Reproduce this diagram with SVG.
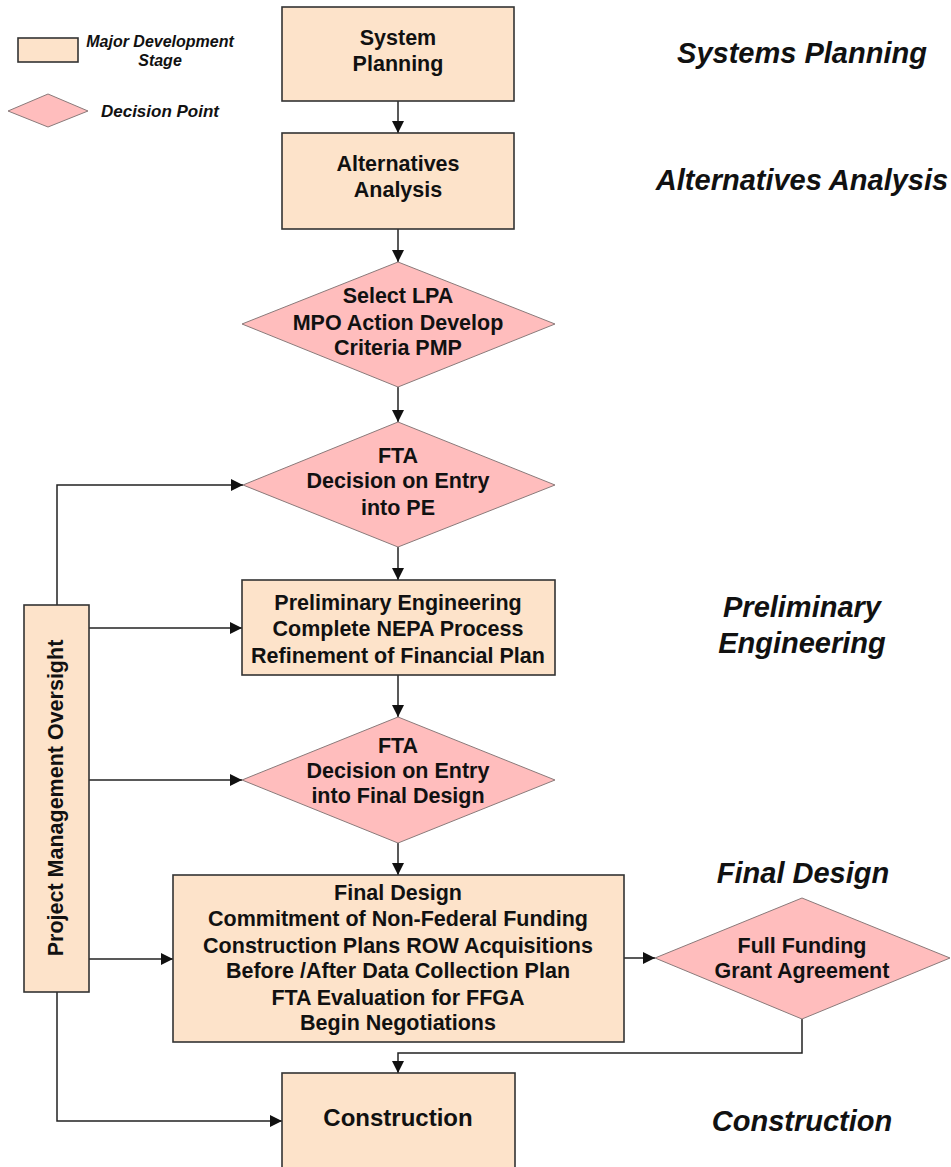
<svg xmlns="http://www.w3.org/2000/svg" width="951" height="1167" viewBox="0 0 951 1167">
<defs>
<style>
.box{fill:#FDE3CA;stroke:#333;stroke-width:1.6}
.dia{fill:#FFBDBD;stroke:#8a7a7a;stroke-width:1}
.t{font-family:"Liberation Sans",Arial,sans-serif;font-weight:bold;font-size:21.5px;fill:#111;text-anchor:middle}
.big{font-size:24px}
.lab{font-family:"Liberation Sans",Arial,sans-serif;font-weight:bold;font-style:italic;font-size:29px;fill:#111;text-anchor:middle}
.leg{font-family:"Liberation Sans",Arial,sans-serif;font-weight:bold;font-style:italic;font-size:16px;fill:#111;text-anchor:middle}
.ln{fill:none;stroke:#222;stroke-width:1.5}
</style>
<marker id="ah" markerUnits="userSpaceOnUse" markerWidth="12" markerHeight="12" viewBox="0 0 12 12" refX="12" refY="6" orient="auto">
<path d="M0,0 L12,6 L0,12 Z" fill="#111"/>
</marker>
</defs>
<rect width="951" height="1167" fill="#fff"/>

<g id="legend">
<rect class="box" x="18" y="38" width="60" height="24"/>
<text class="leg" x="160" y="47">Major Development</text>
<text class="leg" x="160" y="66">Stage</text>
<polygon class="dia" points="8,111 48,94 88,111 48,127"/>
<text class="leg" x="160" y="117" style="font-size:17px">Decision Point</text>
</g>

<g id="connectors">
<path class="ln" d="M398,101 V133" marker-end="url(#ah)"/>
<path class="ln" d="M398,229 V262" marker-end="url(#ah)"/>
<path class="ln" d="M398,387 V422" marker-end="url(#ah)"/>
<path class="ln" d="M398,547 V580" marker-end="url(#ah)"/>
<path class="ln" d="M398,675 V717" marker-end="url(#ah)"/>
<path class="ln" d="M398,843 V875" marker-end="url(#ah)"/>
<path class="ln" d="M57,605 V485 H243" marker-end="url(#ah)"/>
<path class="ln" d="M89,628 H242" marker-end="url(#ah)"/>
<path class="ln" d="M89,780 H242" marker-end="url(#ah)"/>
<path class="ln" d="M89,959 H173" marker-end="url(#ah)"/>
<path class="ln" d="M57,992 V1121 H282" marker-end="url(#ah)"/>
<path class="ln" d="M624,958 H655" marker-end="url(#ah)"/>
<path class="ln" d="M802,1019 V1053 H398 V1073" marker-end="url(#ah)"/>
</g>

<g id="system-planning">
<rect class="box" x="282" y="7" width="232" height="94"/>
<text class="t" x="398" y="45">System</text>
<text class="t" x="398" y="71">Planning</text>
</g>

<g id="alternatives-analysis">
<rect class="box" x="282" y="133" width="232" height="96"/>
<text class="t" x="398" y="171">Alternatives</text>
<text class="t" x="398" y="197">Analysis</text>
</g>

<g id="select-lpa">
<polygon class="dia" points="242,324 398,262 555,324 398,387"/>
<text class="t" x="398" y="303">Select LPA</text>
<text class="t" x="398" y="330">MPO Action Develop</text>
<text class="t" x="398" y="355">Criteria PMP</text>
</g>

<g id="fta-pe">
<polygon class="dia" points="243,485 398,422 555,485 398,547"/>
<text class="t" x="398" y="463">FTA</text>
<text class="t" x="398" y="488">Decision on Entry</text>
<text class="t" x="398" y="515">into PE</text>
</g>

<g id="preliminary-engineering">
<rect class="box" x="242" y="580" width="313" height="95"/>
<text class="t" x="398" y="610">Preliminary Engineering</text>
<text class="t" x="398" y="636">Complete NEPA Process</text>
<text class="t" x="398" y="663">Refinement of Financial Plan</text>
</g>

<g id="fta-fd">
<polygon class="dia" points="242,780 398,717 555,780 398,843"/>
<text class="t" x="398" y="753">FTA</text>
<text class="t" x="398" y="778">Decision on Entry</text>
<text class="t" x="398" y="803">into Final Design</text>
</g>

<g id="final-design">
<rect class="box" x="173" y="875" width="451" height="167"/>
<text class="t" x="398" y="900">Final Design</text>
<text class="t" x="398" y="926">Commitment of Non-Federal Funding</text>
<text class="t" x="398" y="953">Construction Plans ROW Acquisitions</text>
<text class="t" x="398" y="978">Before /After Data Collection Plan</text>
<text class="t" x="398" y="1005">FTA Evaluation for FFGA</text>
<text class="t" x="398" y="1030">Begin Negotiations</text>
</g>

<g id="ffga">
<polygon class="dia" points="655,958 802,898 950,958 802,1019"/>
<text class="t" x="802" y="953">Full Funding</text>
<text class="t" x="802" y="978">Grant Agreement</text>
</g>

<g id="construction">
<rect class="box" x="282" y="1073" width="233" height="100"/>
<text class="t big" x="398" y="1126">Construction</text>
</g>

<g id="pmo">
<rect class="box" x="24" y="605" width="65" height="387"/>
<text class="t" transform="translate(63,798) rotate(-90)" x="0" y="0">Project Management Oversight</text>
</g>

<g id="stage-labels">
<text class="lab" x="802" y="63">Systems Planning</text>
<text class="lab" x="802" y="190">Alternatives Analysis</text>
<text class="lab" x="802" y="617">Preliminary</text>
<text class="lab" x="802" y="653">Engineering</text>
<text class="lab" x="803" y="883">Final Design</text>
<text class="lab" x="802" y="1131">Construction</text>
</g>
</svg>
